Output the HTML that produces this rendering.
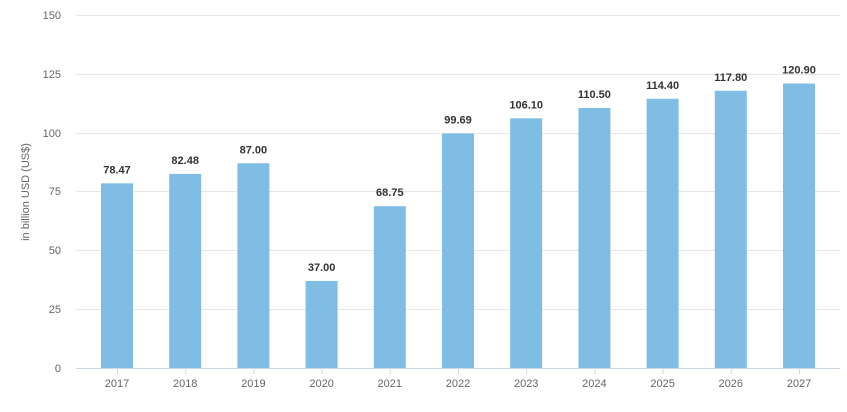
<!DOCTYPE html>
<html><head><meta charset="utf-8"><style>body{margin:0;background:#fff}svg{display:block}</style></head><body>
<svg width="847" height="412" xmlns="http://www.w3.org/2000/svg" font-family="Liberation Sans, DejaVu Sans, sans-serif">
<g stroke="#e6e6e6" stroke-width="1">
<line x1="76" x2="840" y1="15.5" y2="15.5"/><line x1="76" x2="840" y1="74.5" y2="74.5"/><line x1="76" x2="840" y1="133.5" y2="133.5"/><line x1="76" x2="840" y1="191.5" y2="191.5"/><line x1="76" x2="840" y1="250.5" y2="250.5"/><line x1="76" x2="840" y1="309.5" y2="309.5"/>
</g>
<g font-size="11" fill="#666" text-anchor="end">
<text x="61" y="19">150</text><text x="61" y="78">125</text><text x="61" y="137">100</text><text x="61" y="195">75</text><text x="61" y="254">50</text><text x="61" y="313">25</text><text x="61" y="372">0</text>
</g>
<text transform="translate(29,192) rotate(-90)" font-size="11" fill="#666" text-anchor="middle">in billion USD (US$)</text>
<g fill="#7fbde4" id="bars"></g>
<line x1="76" x2="840" y1="368.5" y2="368.5" stroke="#ccd6eb"/>
<g id="lbl"></g>
<script>
var d=[["2017",78.47],["2018",82.48],["2019",87.00],["2020",37.00],["2021",68.75],["2022",99.69],["2023",106.10],["2024",110.50],["2025",114.40],["2026",117.80],["2027",120.90]];
var b=document.getElementById('bars'),l=document.getElementById('lbl'),ns="http://www.w3.org/2000/svg";
d.forEach(function(e,i){var x=101+i*68.2,y=368-e[1]*353/150;
var r=document.createElementNS(ns,'rect');r.setAttribute('x',x);r.setAttribute('y',y);r.setAttribute('width',32);r.setAttribute('height',368-y);b.appendChild(r);
var t=document.createElementNS(ns,'text');t.setAttribute('x',x+16);t.setAttribute('y',y-10);t.setAttribute('text-anchor','middle');t.setAttribute('font-size','11');t.setAttribute('font-weight','bold');t.setAttribute('fill','#333');t.textContent=e[1].toFixed(2);l.appendChild(t);
var k=document.createElementNS(ns,'line');k.setAttribute('x1',x+16.5);k.setAttribute('x2',x+16.5);k.setAttribute('y1',368);k.setAttribute('y2',374);k.setAttribute('stroke','#ccd6eb');l.appendChild(k);
var u=document.createElementNS(ns,'text');u.setAttribute('x',x+16);u.setAttribute('y',387);u.setAttribute('text-anchor','middle');u.setAttribute('font-size','11');u.setAttribute('fill','#666');u.textContent=e[0];l.appendChild(u);});
</script>
</svg>
</body></html>
